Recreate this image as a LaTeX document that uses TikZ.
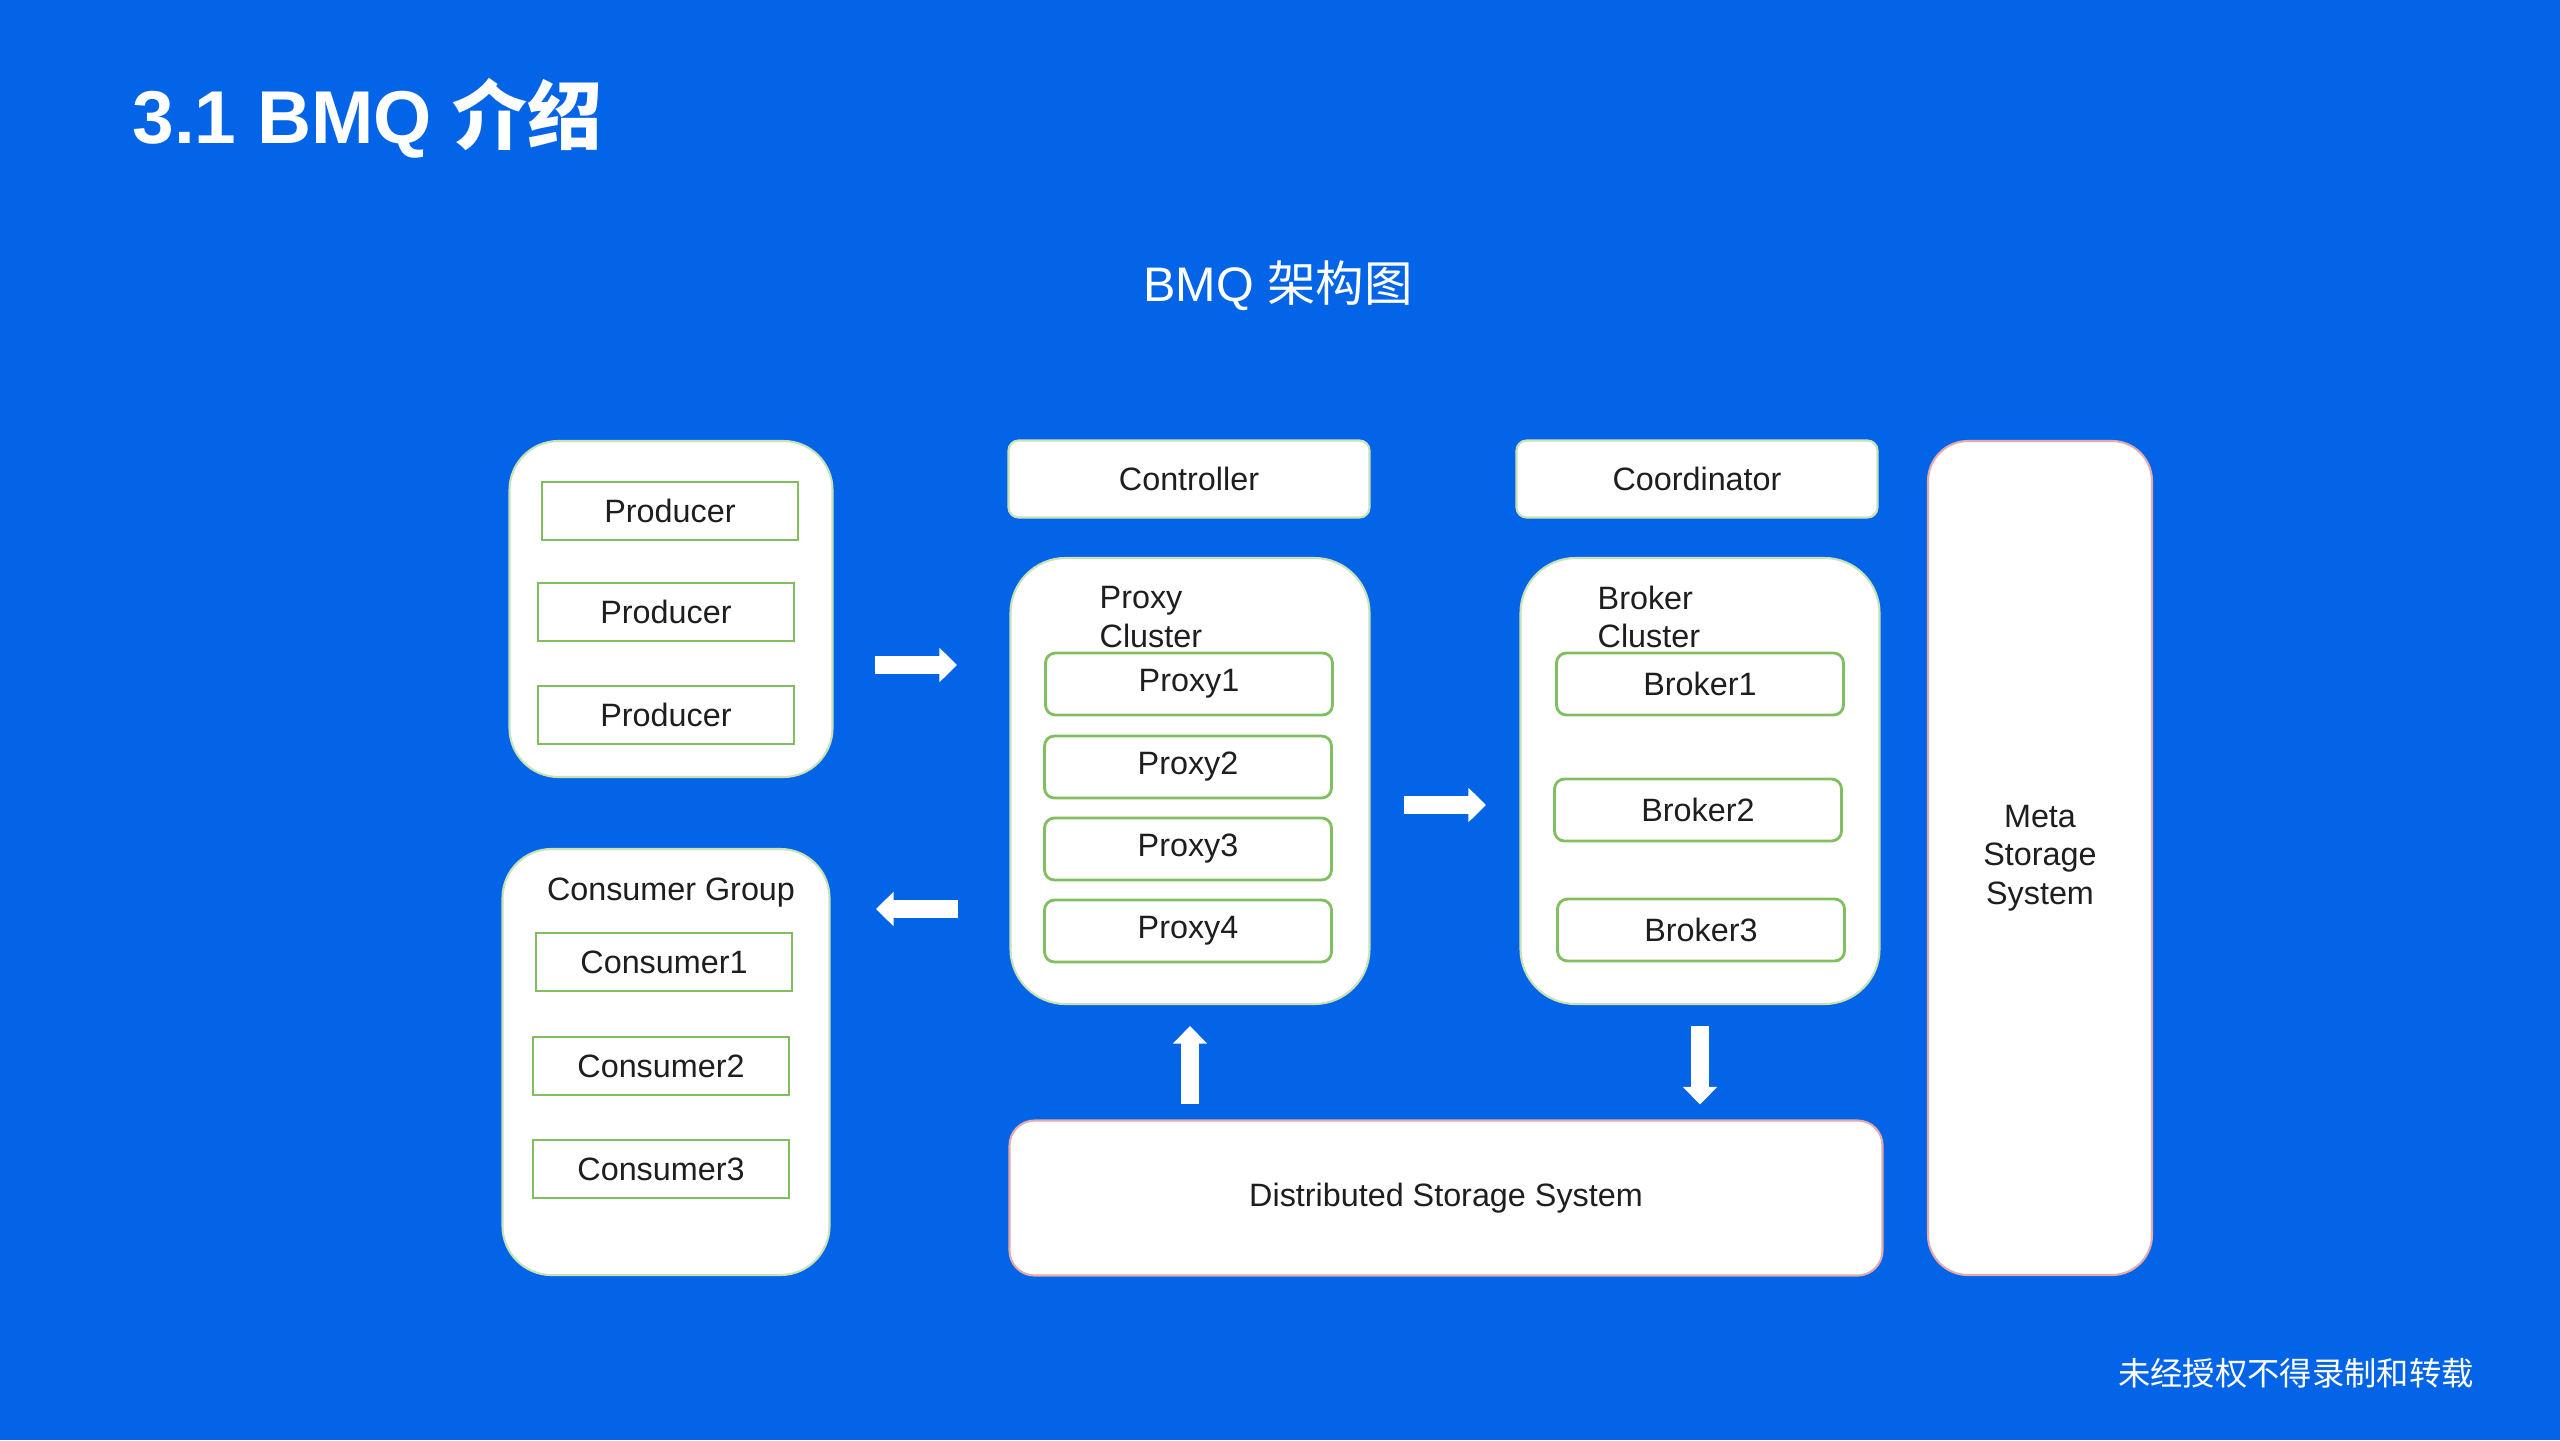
\documentclass[tikz,border=0pt]{standalone}
\usepackage{fontspec}
\setmainfont{Liberation Sans}
\newfontfamily\cjk{Noto Sans CJK SC}
\usetikzlibrary{arrows.meta}
\definecolor{bgblue}{RGB}{4,100,232}
\definecolor{groupline}{RGB}{200,226,180}
\definecolor{itemgreen}{RGB}{128,190,95}
\definecolor{storeline}{RGB}{228,170,170}
\definecolor{textgray}{RGB}{30,30,30}

\begin{document}
\begin{tikzpicture}[
    group_node/.style={draw=groupline, fill=white, line width=0.6pt, rounded corners=0.49cm, inner sep=0pt},
    store_node/.style={draw=storeline, fill=white, line width=0.6pt, inner sep=0pt, text=textgray, font=\fontsize{9.2}{11}\selectfont, align=center},
    head_node/.style={draw=groupline, fill=white, line width=0.6pt, rounded corners=0.1cm, minimum width=3.61cm, minimum height=0.77cm, text=textgray, font=\fontsize{9.2}{11}\selectfont},
    item_node/.style={draw=itemgreen, fill=white, line width=0.8pt, minimum width=2.56cm, minimum height=0.58cm, text=textgray, font=\fontsize{9.2}{11}\selectfont},
    member_node/.style={item_node, rounded corners=0.1cm, minimum width=2.87cm, minimum height=0.62cm},
    label_node/.style={text=textgray, font=\fontsize{9.2}{11}\selectfont, inner sep=0pt},
    flow_arrow/.style={draw=white, line width=5pt, -{Triangle[length=5pt,width=9.5pt]}}]

    \fill[bgblue] (0,0) rectangle (25.6,-14.4);
    \useasboundingbox (0,0) rectangle (25.6,-14.4);

    % titles
    \node[anchor=west, text=white, font=\fontsize{21.3}{24}\selectfont\bfseries] (title) at (1.20,-1.18) {3.1 BMQ {\cjk 介绍}};
    \node[text=white, font=\fontsize{13.8}{16}\selectfont] (subtitle) at (12.78,-2.86) {BMQ {\cjk 架构图}};

    % producers
    \node[group_node, minimum width=3.23cm, minimum height=3.36cm] (prod) at (6.71,-6.09) {};
    \node[item_node] (prod1) at (6.70,-5.11) {Producer};
    \node[item_node] (prod2) at (6.66,-6.12) {Producer};
    \node[item_node] (prod3) at (6.66,-7.15) {Producer};

    % consumers
    \node[group_node, minimum width=3.27cm, minimum height=4.26cm] (cons) at (6.66,-10.62) {};
    \node[label_node] (conslabel) at (6.71,-8.93) {Consumer Group};
    \node[item_node] (cons1) at (6.64,-9.62) {Consumer1};
    \node[item_node] (cons2) at (6.61,-10.66) {Consumer2};
    \node[item_node] (cons3) at (6.61,-11.69) {Consumer3};

    % controller and coordinator
    \node[head_node] (ctrl) at (11.89,-4.79) {Controller};
    \node[head_node] (coord) at (16.97,-4.79) {Coordinator};

    % proxy cluster
    \node[group_node, rounded corners=0.55cm, minimum width=3.59cm, minimum height=4.46cm] (proxy) at (11.90,-7.81) {};
    \node[label_node, anchor=west, align=left] (proxylabel) at (10.99,-6.17) {Proxy\\Cluster};
    \node[member_node] (proxy1) at (11.89,-6.84) {Proxy1};
    \node[member_node] (proxy2) at (11.88,-7.67) {Proxy2};
    \node[member_node] (proxy3) at (11.88,-8.49) {Proxy3};
    \node[member_node] (proxy4) at (11.88,-9.31) {Proxy4};

    % broker cluster
    \node[group_node, rounded corners=0.55cm, minimum width=3.59cm, minimum height=4.46cm] (broker) at (17.00,-7.81) {};
    \node[label_node, anchor=west, align=left] (brokerlabel) at (15.97,-6.17) {Broker\\Cluster};
    \node[member_node] (broker1) at (17.00,-6.84) {Broker1};
    \node[member_node] (broker2) at (16.98,-8.10) {Broker2};
    \node[member_node] (broker3) at (17.01,-9.30) {Broker3};

    % storage
    \node[store_node, rounded corners=0.4cm, minimum width=2.24cm, minimum height=8.34cm] (meta) at (20.40,-8.58) {Meta\\Storage\\System};
    \node[store_node, rounded corners=0.25cm, minimum width=8.73cm, minimum height=1.55cm] (dss) at (14.46,-11.98) {Distributed Storage System};

    % arrows
    \coordinate (prodout) at (8.75,-6.65);
    \coordinate (proxyin) at (9.57,-6.65);
    \coordinate (proxyout) at (9.58,-9.09);
    \coordinate (consin) at (8.76,-9.09);
    \coordinate (brokerin1) at (14.04,-8.05);
    \coordinate (brokerin2) at (14.86,-8.05);
    \draw[flow_arrow] (prodout) -- (proxyin);
    \draw[flow_arrow] (proxyout) -- (consin);
    \draw[flow_arrow] (brokerin1) -- (brokerin2);
    \draw[flow_arrow, shorten <=0.15cm, shorten >=0.21cm] (proxy.south |- dss.north) -- (proxy.south);
    \draw[flow_arrow, shorten <=0.21cm, shorten >=0.15cm] (broker.south) -- (broker.south |- dss.north);

    % footer
    \node[text=white, font=\fontsize{9.2}{11}\selectfont\cjk] (mark) at (22.96,-13.73) {未经授权不得录制和转载};
\end{tikzpicture}
\end{document}
